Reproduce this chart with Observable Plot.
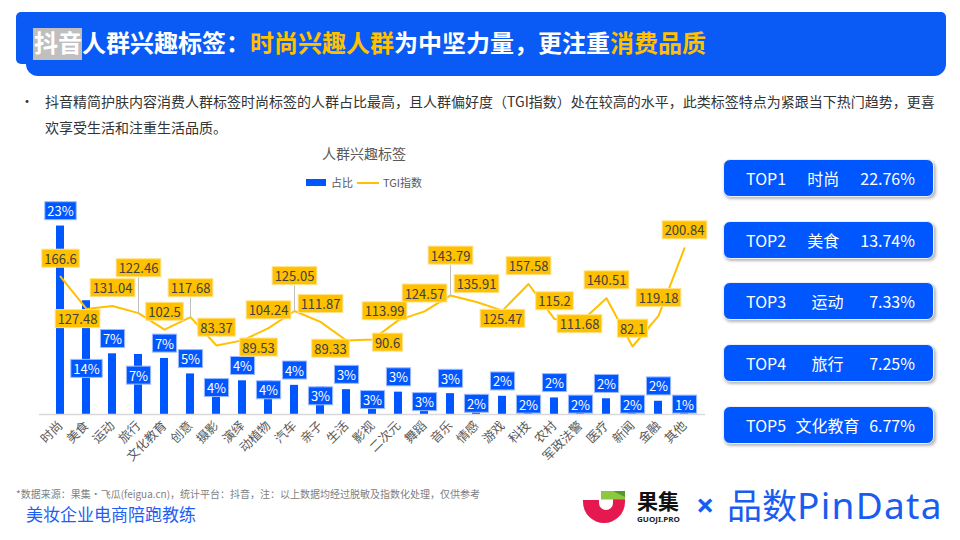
<!DOCTYPE html>
<html><head><meta charset="utf-8">
<script src="https://cdn.jsdelivr.net/npm/d3@7"></script>
<script src="https://cdn.jsdelivr.net/npm/@observablehq/plot@0.6"></script>
<style>
html,body{margin:0;padding:0;}
body{width:960px;height:540px;position:relative;overflow:hidden;background:#fff;font-family:"Noto Sans CJK SC","Noto Sans",sans-serif;}
.abs{position:absolute;white-space:nowrap;}
.topbox{position:absolute;left:723px;width:211px;height:38px;box-sizing:border-box;background:#0057FF;border:1.5px solid #eef0f6;border-radius:7px;box-shadow:1.5px 2px 3px rgba(0,0,0,0.28);display:flex;align-items:center;justify-content:space-between;padding:0 18px 0 22px;color:#fff;font-size:16px;}
</style></head><body>

<svg class="abs" style="left:0;top:0" width="960" height="90">
  <rect x="16" y="12" width="930" height="52" rx="5" fill="#0A5AF5"/>
  <rect x="26" y="20" width="920" height="56" rx="12" fill="#0A5AF5"/>
  <rect x="33" y="28" width="49" height="32" fill="#BFBFBF"/>
  <text x="34" y="52" font-size="24" font-weight="700" font-family="Noto Sans CJK SC" fill="#fff"><tspan>抖音人群兴趣标签：</tspan><tspan fill="#FFC000">时尚兴趣人群</tspan><tspan>为中坚力量，更注重</tspan><tspan fill="#FFC000">消费品质</tspan></text>
</svg>

<div class="abs" style="left:20px;top:90px;font-size:14px;color:#333;">•</div>
<div class="abs" style="left:45px;top:88px;font-size:14px;line-height:26px;color:#333;">抖音精简护肤内容消费人群标签时尚标签的人群占比最高，且人群偏好度（TGI指数）处在较高的水平，此类标签特点为紧跟当下热门趋势，更喜<br>欢享受生活和注重生活品质。</div>

<div class="abs" style="left:0;width:728px;top:143px;text-align:center;font-size:14px;color:#595959;">人群兴趣标签</div>
<div class="abs" style="left:306px;top:179px;width:20px;height:7px;background:#0057FF;"></div>
<div class="abs" style="left:331px;top:174px;font-size:11px;color:#595959;">占比</div>
<div class="abs" style="left:357px;top:181.5px;width:22px;height:2px;background:#FFC000;"></div>
<div class="abs" style="left:383px;top:174px;font-size:11px;color:#595959;">TGI指数</div>

<div id="chart" class="abs" style="left:0;top:140px;"></div>
<div id="tops"></div>

<div class="abs" style="left:16px;top:486px;font-size:10px;color:#808080;">*数据来源：果集·飞瓜(feigua.cn)，统计平台：抖音，注：以上数据均经过脱敏及指数化处理，仅供参考</div>
<div class="abs" style="left:26px;top:501px;font-size:17px;color:#1D5EF5;">美妆企业电商陪跑教练</div>

<svg class="abs" style="left:0;top:0" width="960" height="540">
  <path d="M583,500 L583,502 A21,21 0 0 0 625,502 L625,499 L613,499 L613,503 A7,7 0 0 1 599,503 L599,500 Z" fill="#E5194F"/>
  <rect x="601" y="491" width="24" height="8.5" fill="#8DC63F"/>
  <path d="M613,491 L625,491 L625,497 Z" fill="#4E9A2E"/>
  <text x="637" y="509" font-size="21" font-weight="700" fill="#111" font-family="Noto Sans CJK SC">果集</text>
  <text x="637" y="521.5" font-size="7" font-weight="700" fill="#222" font-family="Noto Sans" textLength="43" lengthAdjust="spacingAndGlyphs">GUOJI.PRO</text>
  <text x="696" y="517" font-size="32" font-weight="700" fill="#1A5CF0" font-family="Noto Sans">×</text>
  <text x="727" y="519" font-size="35" fill="#1A5CF0" font-family="Noto Sans CJK SC">品数<tspan font-family="Noto Sans" font-size="37" letter-spacing="1.3">PinData</tspan></text>
</svg>

<script>
// ---- data ----
const categories = ["时尚","美食","运动","旅行","文化教育","创意","摄影","演绎","动植物","汽车","亲子","生活","影视","二次元","舞蹈","音乐","情感","游戏","科技","农村","军政法警","医疗","新闻","金融","其他"];
const shareValues = [22.76,13.74,7.33,7.25,6.77,4.9,4.3,4.07,4.03,3.52,3.3,3.0,2.85,2.7,2.6,2.52,2.4,2.2,2.1,2.0,1.95,1.9,1.75,1.6,1.2];
const tgiValues = [166.6,127.48,131.04,122.46,102.5,117.68,83.37,89.53,104.24,125.05,111.87,89.33,90.6,113.99,124.57,143.79,135.91,125.47,157.58,115.2,111.68,140.51,82.1,119.18,200.84];
const topRanks = ["TOP1","TOP2","TOP3","TOP4","TOP5"];
const topNames = ["时尚","美食","运动","旅行","文化教育"];
const topShares = ["22.76%","13.74%","7.33%","7.25%","6.77%"];

// ---- styling / placement config ----
const BLUE = "#0057FF", YELLOW = "#FFC000";
const TGI_MAX = 250, SHARE_MAX = 25;
const data = categories.map((c, i) => ({cat: c, share: shareValues[i], tgi: tgiValues[i]}));
const tgiY = d => d.tgi * SHARE_MAX / TGI_MAX;

const barBelow = new Set(["摄影","动植物","亲子","影视","舞蹈","情感","科技","军政法警","新闻","其他"]);
const barSpecial = {"美食": 69, "旅行": 22};
const tgiPlace = {"美食":[-9,11],"旅行":[0,-44],"创意":[0,-28],"演绎":[16,8],"汽车":[0,-34],"生活":[-16,9],"影视":[15,4],"二次元":[-14,-8],"音乐":[0,-39],"游戏":[0,9],"军政法警":[-1,3]};
const leaders = {"旅行":35,"创意":19,"汽车":25,"音乐":30};

const labelFont = {fontSize: 13, fontFamily: "Noto Sans CJK SC"};

const barLabelMarks = [
  Plot.text(data.filter(d => !barBelow.has(d.cat) && !(d.cat in barSpecial)), {x: "cat", y: "share", text: d => Math.round(d.share) + "%", dy: -14, fill: "white", ...labelFont}),
  Plot.text(data.filter(d => barBelow.has(d.cat)), {x: "cat", y: d => Math.max(d.share, 2.3), text: d => Math.round(d.share) + "%", dy: 10, fill: "white", ...labelFont}),
  ...Object.entries(barSpecial).map(([c, dy]) => Plot.text(data.filter(d => d.cat === c), {x: "cat", y: "share", text: d => Math.round(d.share) + "%", dy, fill: "white", ...labelFont}))
];

const tgiGroups = d3.group(data, d => (tgiPlace[d.cat] || [0, -17]).join(","));
const tgiLabelMarks = Array.from(tgiGroups, ([k, rows]) => {
  const [dx, dy] = k.split(",").map(Number);
  return Plot.text(rows, {x: "cat", y: tgiY, text: d => String(d.tgi), dx, dy, fill: "#404040", ...labelFont});
});
const leaderMarks = Object.entries(leaders).map(([c, len]) =>
  Plot.ruleX(data.filter(d => d.cat === c), {x: "cat", y1: tgiY, y2: tgiY, insetBottom: len, stroke: "#BFBFBF", strokeWidth: 1}));

const plot = Plot.plot({
  width: 720, height: 340,
  marginLeft: 39, marginRight: 15, marginTop: 67, marginBottom: 66,
  style: {fontSize: "12.5px", fontFamily: "Noto Sans CJK SC, sans-serif", color: "#595959", background: "transparent", overflow: "visible"},
  x: {domain: categories, paddingInner: 0.7, paddingOuter: 0.35, tickRotate: -45, tickSize: 0, tickPadding: 9, label: null},
  y: {domain: [0, SHARE_MAX], axis: null},
  marks: [
    Plot.barY(data, {x: "cat", y: "share", fill: BLUE}),
    Plot.ruleY([0], {stroke: "#D9D9D9", strokeWidth: 1.5}),
    ...barLabelMarks,
    Plot.line(data, {x: "cat", y: tgiY, stroke: YELLOW, strokeWidth: 2}),
    ...leaderMarks,
    ...tgiLabelMarks
  ]
});
document.getElementById("chart").appendChild(plot);

// label boxes behind the text labels
function boxify(fillAttr, boxFill, boxStroke) {
  plot.querySelectorAll("g").forEach(g => {
    if (g.getAttribute("fill") !== fillAttr) return;
    g.querySelectorAll("text").forEach(t => {
      const bb = t.getBBox();
      const r = document.createElementNS("http://www.w3.org/2000/svg", "rect");
      const h = 18, pad = 2.5;
      r.setAttribute("x", bb.x - pad);
      r.setAttribute("y", bb.y + bb.height / 2 - h / 2);
      r.setAttribute("width", bb.width + pad * 2);
      r.setAttribute("height", h);
      r.setAttribute("fill", boxFill);
      r.setAttribute("stroke", boxStroke);
      r.setAttribute("stroke-width", 1);
      const tr = t.getAttribute("transform");
      if (tr) r.setAttribute("transform", tr);
      g.insertBefore(r, t);
    });
  });
}
boxify("white", BLUE, "#9DBBFF");
boxify("#404040", YELLOW, "#FFE28A");

// TOP boxes
const tops = document.getElementById("tops");
const topY = [159, 221, 282, 344, 406];
topRanks.forEach((r, i) => {
  const b = document.createElement("div");
  b.className = "topbox";
  b.style.top = topY[i] + "px";
  b.innerHTML = `<span>${r}</span><span>${topNames[i]}</span><span>${topShares[i]}</span>`;
  tops.appendChild(b);
});
</script>
</body></html>
